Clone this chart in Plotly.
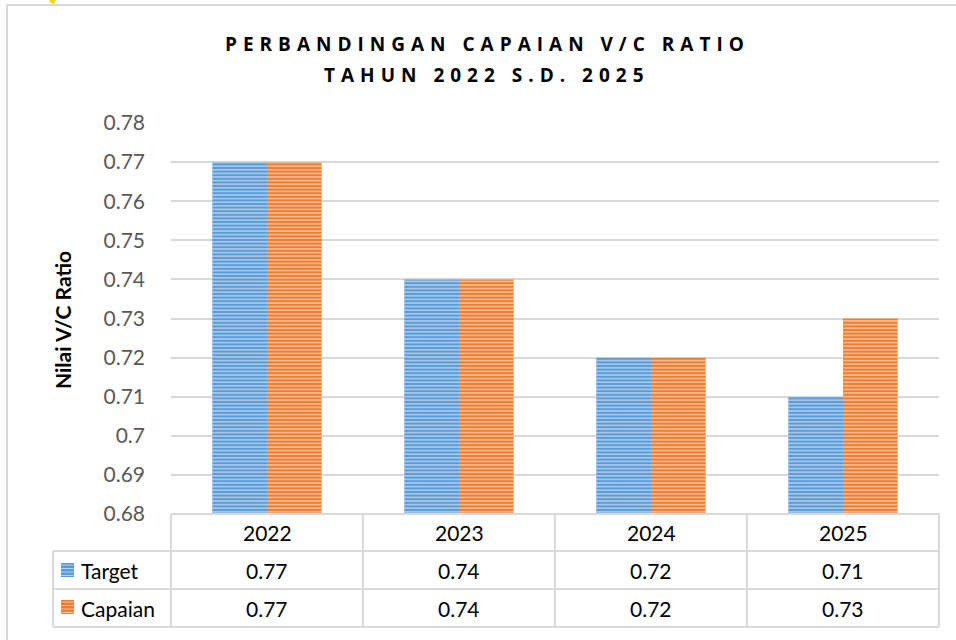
import plotly.graph_objects as go

years = ["2022", "2023", "2024", "2025"]
target = [0.77, 0.74, 0.72, 0.71]
capaian = [0.77, 0.74, 0.72, 0.73]
series_names = ["Target", "Capaian"]
ytick_vals = [0.68, 0.69, 0.70, 0.71, 0.72, 0.73, 0.74, 0.75, 0.76, 0.77, 0.78]
ytick_text = ["0.68", "0.69", "0.7", "0.71", "0.72", "0.73", "0.74", "0.75", "0.76", "0.77", "0.78"]
title_lines = ["PERBANDINGAN CAPAIAN V/C RATIO", "TAHUN 2022 S.D. 2025"]
y_title = "Nilai V/C Ratio"

BLUE, BLUE_L = "#5B9BD5", "#B4D0EE"
ORANGE, ORANGE_L = "#ED7D31", "#F8C49F"
GRID = "#D9D9D9"
FONT = "Lato, 'Open Sans', sans-serif"

W, H = 956, 640
L, R, T, B = 171, 17, 123, 126
PW, PH = W - L - R, H - T - B
NCAT = len(years)


def px_x(px):
    return (px - L) / PW


def px_y(py):
    return (H - B - py) / PH


fig = go.Figure()
for name, vals, main, light in [(series_names[0], target, BLUE, BLUE_L),
                                (series_names[1], capaian, ORANGE, ORANGE_L)]:
    fig.add_trace(go.Bar(
        x=years, y=vals, name=name,
        marker=dict(color=light, line=dict(width=0),
                    pattern=dict(shape="-", fgcolor=main, bgcolor=light,
                                 size=3.6, solidity=0.6, fillmode="replace")),
        showlegend=False, hoverinfo="skip",
    ))

shapes = []
# outer chart border
shapes.append(dict(type="rect", xref="paper", yref="paper",
                   x0=px_x(7), x1=px_x(970), y0=px_y(655), y1=px_y(5),
                   line=dict(color=GRID, width=2), fillcolor="rgba(0,0,0,0)", layer="below"))
# small yellow mark at the top edge
shapes.append(dict(type="path", xref="paper", yref="paper",
                   path=f"M {px_x(49)},{px_y(0)} L {px_x(56)},{px_y(0)} L {px_x(54)},{px_y(4)} L {px_x(51)},{px_y(3)} Z",
                   line=dict(width=0), fillcolor="#F5D800"))
# data table lines
row_y = [514, 551, 589, 627]
for i, py in enumerate(row_y):
    x0 = 0 if i == 0 else px_x(53)
    shapes.append(dict(type="line", xref="paper", yref="paper",
                       x0=x0, x1=1, y0=px_y(py), y1=px_y(py),
                       line=dict(color=GRID, width=2)))
for k in range(NCAT + 1):
    shapes.append(dict(type="line", xref="paper", yref="paper",
                       x0=k / NCAT, x1=k / NCAT, y0=px_y(514), y1=px_y(627),
                       line=dict(color=GRID, width=2)))
shapes.append(dict(type="line", xref="paper", yref="paper",
                   x0=px_x(53), x1=px_x(53), y0=px_y(551), y1=px_y(627),
                   line=dict(color=GRID, width=2)))
# legend keys
for (yc, main) in [(570, BLUE), (607, ORANGE)]:
    shapes.append(dict(type="rect", xref="paper", yref="paper",
                       x0=px_x(61), x1=px_x(74), y0=px_y(yc + 7), y1=px_y(yc - 7),
                       line=dict(width=0), fillcolor=main))
    for s in range(4):
        yy = yc - 5 + s * 3.5
        shapes.append(dict(type="line", xref="paper", yref="paper",
                           x0=px_x(61), x1=px_x(74), y0=px_y(yy), y1=px_y(yy),
                           line=dict(color="rgba(255,255,255,0.55)", width=1)))

annotations = []
# title lines
for i, (line, py) in enumerate(zip(title_lines, [44, 75])):
    annotations.append(dict(text="<b>" + line + "</b>", xref="paper", yref="paper",
                            x=px_x(487), y=px_y(py), xanchor="center", yanchor="middle",
                            showarrow=False, font=dict(family="'Open Sans', sans-serif", size=19, color="#000000")))
# y title
annotations.append(dict(text="<b>" + y_title + "</b>", xref="paper", yref="paper",
                        x=px_x(62), y=px_y(320), xanchor="center", yanchor="middle",
                        textangle=-90, showarrow=False,
                        font=dict(family=FONT, size=21, color="#000000")))
# table header and values
for i, yr in enumerate(years):
    xc = (i + 0.5) / NCAT
    annotations.append(dict(text=yr, xref="paper", yref="paper", x=xc, y=px_y(532),
                            xanchor="center", yanchor="middle", showarrow=False,
                            font=dict(family=FONT, size=21, color="#000000")))
    for vals, py in [(target, 570), (capaian, 608)]:
        annotations.append(dict(text=f"{vals[i]:.2f}", xref="paper", yref="paper", x=xc, y=px_y(py),
                                xanchor="center", yanchor="middle", showarrow=False,
                                font=dict(family=FONT, size=21, color="#000000")))
for name, py in zip(series_names, [570, 608]):
    annotations.append(dict(text=name, xref="paper", yref="paper", x=px_x(79), y=px_y(py),
                            xanchor="left", yanchor="middle", showarrow=False,
                            font=dict(family=FONT, size=21, color="#000000")))

fig.update_layout(
    width=W, height=H,
    margin=dict(l=L, r=R, t=T, b=B, autoexpand=False),
    paper_bgcolor="white", plot_bgcolor="white",
    barmode="group", bargap=0.43, bargroupgap=0,
    shapes=shapes, annotations=annotations,
    font=dict(family=FONT),
)
fig.update_xaxes(type="category", range=[-0.5, NCAT - 0.5], showticklabels=False,
                 showgrid=False, showline=False, zeroline=False, ticks="")
fig.update_yaxes(range=[0.68, 0.78], tickvals=ytick_vals, ticktext=ytick_text,
                 showgrid=True, gridcolor=GRID, gridwidth=1.5, zeroline=False, showline=False,
                 tickfont=dict(family=FONT, size=21, color="#595959"),
                 ticks="", ticklabelstandoff=25)

post = """
document.body.style.margin = '0';
document.body.style.padding = '0';
var gd = document.getElementById('{plot_id}');
function sp(){
  gd.querySelectorAll('g.annotation').forEach(function(g){
    var i = g.getAttribute('data-index');
    if (i === '0' || i === '1') {
      var t = g.querySelector('text');
      if (t) { t.style.letterSpacing = '6px'; }
    }
  });
}
sp();
gd.on('plotly_afterplot', sp);
"""
fig.write_html("out.html", post_script=post, config={"displayModeBar": False})
